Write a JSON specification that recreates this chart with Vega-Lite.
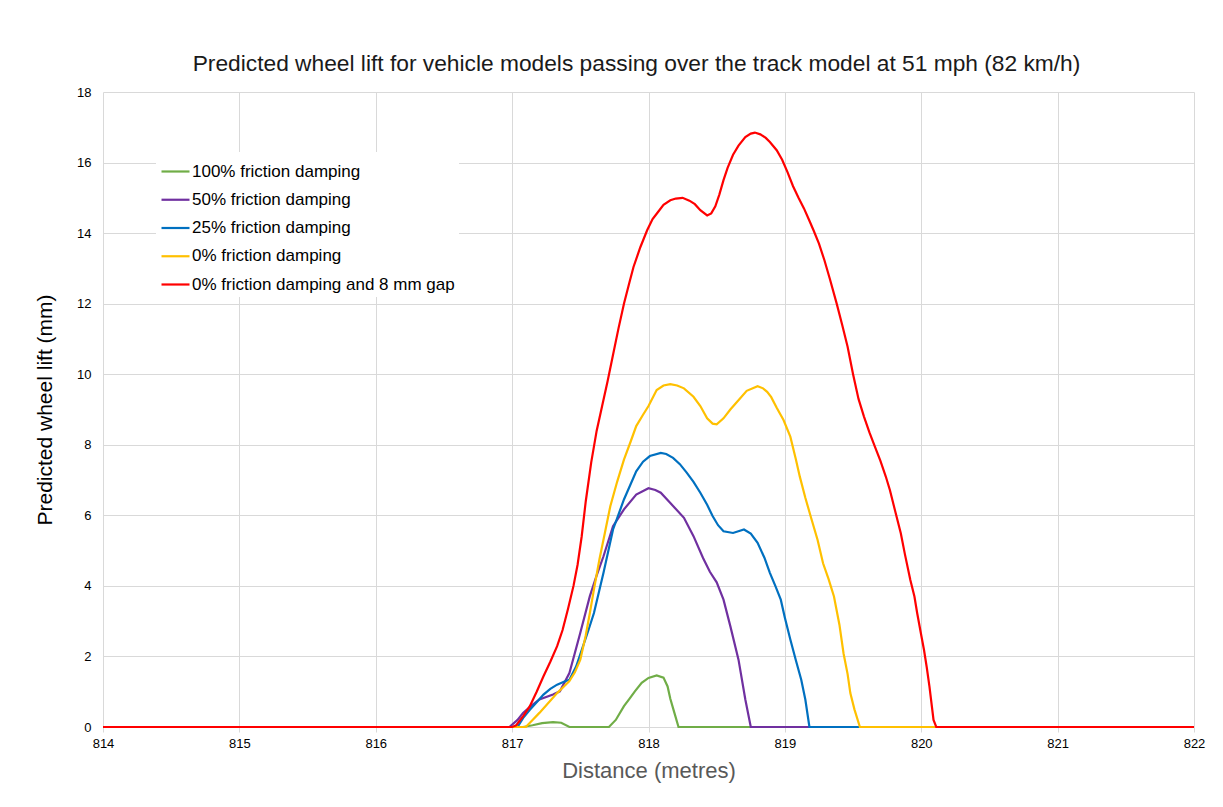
{
  "$schema": "https://vega.github.io/schema/vega-lite/v6.json",
  "autosize": {"type": "none"},
  "width": 1091,
  "height": 635,
  "padding": {"left": 103, "top": 92, "right": 29, "bottom": 80},
  "background": "white",
  "config": {
    "font": "Liberation Sans",
    "view": {"stroke": null}
  },
  "title": {
    "text": "Predicted wheel lift for vehicle models passing over the track model at 51 mph (82 km/h)",
    "font": "Liberation Sans",
    "fontSize": 22.75,
    "fontWeight": "normal",
    "color": "#1a1a1a",
    "anchor": "middle",
    "dx": -12,
    "offset": 10
  },
  "data": {
    "values": [
      {"series": "100% friction damping", "d": 814, "v": 0},
      {"series": "100% friction damping", "d": 817.0, "v": 0},
      {"series": "100% friction damping", "d": 817.08, "v": 0},
      {"series": "100% friction damping", "d": 817.15, "v": 0.05},
      {"series": "100% friction damping", "d": 817.22, "v": 0.11},
      {"series": "100% friction damping", "d": 817.3, "v": 0.14},
      {"series": "100% friction damping", "d": 817.36, "v": 0.12},
      {"series": "100% friction damping", "d": 817.42, "v": 0},
      {"series": "100% friction damping", "d": 817.71, "v": 0},
      {"series": "100% friction damping", "d": 817.76, "v": 0.2},
      {"series": "100% friction damping", "d": 817.82, "v": 0.59},
      {"series": "100% friction damping", "d": 817.86, "v": 0.8},
      {"series": "100% friction damping", "d": 817.9, "v": 1.01},
      {"series": "100% friction damping", "d": 817.95, "v": 1.25},
      {"series": "100% friction damping", "d": 818.0, "v": 1.39},
      {"series": "100% friction damping", "d": 818.06, "v": 1.46},
      {"series": "100% friction damping", "d": 818.11, "v": 1.4},
      {"series": "100% friction damping", "d": 818.14, "v": 1.15},
      {"series": "100% friction damping", "d": 818.16, "v": 0.8},
      {"series": "100% friction damping", "d": 818.19, "v": 0.4},
      {"series": "100% friction damping", "d": 818.22, "v": 0},
      {"series": "100% friction damping", "d": 822, "v": 0},

      {"series": "50% friction damping", "d": 814, "v": 0},
      {"series": "50% friction damping", "d": 816.98, "v": 0},
      {"series": "50% friction damping", "d": 817.04, "v": 0.2},
      {"series": "50% friction damping", "d": 817.08, "v": 0.4},
      {"series": "50% friction damping", "d": 817.14, "v": 0.6},
      {"series": "50% friction damping", "d": 817.2, "v": 0.78},
      {"series": "50% friction damping", "d": 817.3, "v": 0.92},
      {"series": "50% friction damping", "d": 817.35, "v": 1.01},
      {"series": "50% friction damping", "d": 817.42, "v": 1.53},
      {"series": "50% friction damping", "d": 817.46, "v": 2.1},
      {"series": "50% friction damping", "d": 817.5, "v": 2.67},
      {"series": "50% friction damping", "d": 817.57, "v": 3.71},
      {"series": "50% friction damping", "d": 817.62, "v": 4.3},
      {"series": "50% friction damping", "d": 817.67, "v": 4.84},
      {"series": "50% friction damping", "d": 817.74, "v": 5.69},
      {"series": "50% friction damping", "d": 817.82, "v": 6.17},
      {"series": "50% friction damping", "d": 817.91, "v": 6.59},
      {"series": "50% friction damping", "d": 818.0, "v": 6.77},
      {"series": "50% friction damping", "d": 818.05, "v": 6.72},
      {"series": "50% friction damping", "d": 818.09, "v": 6.64},
      {"series": "50% friction damping", "d": 818.16, "v": 6.35},
      {"series": "50% friction damping", "d": 818.26, "v": 5.93},
      {"series": "50% friction damping", "d": 818.33, "v": 5.41},
      {"series": "50% friction damping", "d": 818.4, "v": 4.79},
      {"series": "50% friction damping", "d": 818.45, "v": 4.4},
      {"series": "50% friction damping", "d": 818.5, "v": 4.1},
      {"series": "50% friction damping", "d": 818.55, "v": 3.61},
      {"series": "50% friction damping", "d": 818.6, "v": 2.86},
      {"series": "50% friction damping", "d": 818.66, "v": 1.91},
      {"series": "50% friction damping", "d": 818.71, "v": 0.78},
      {"series": "50% friction damping", "d": 818.75, "v": 0},
      {"series": "50% friction damping", "d": 822, "v": 0},

      {"series": "25% friction damping", "d": 814, "v": 0},
      {"series": "25% friction damping", "d": 817.04, "v": 0},
      {"series": "25% friction damping", "d": 817.08, "v": 0.25},
      {"series": "25% friction damping", "d": 817.13, "v": 0.49},
      {"series": "25% friction damping", "d": 817.18, "v": 0.7},
      {"series": "25% friction damping", "d": 817.23, "v": 0.92},
      {"series": "25% friction damping", "d": 817.28, "v": 1.08},
      {"series": "25% friction damping", "d": 817.33, "v": 1.2},
      {"series": "25% friction damping", "d": 817.38, "v": 1.28},
      {"series": "25% friction damping", "d": 817.42, "v": 1.34},
      {"series": "25% friction damping", "d": 817.47, "v": 1.72},
      {"series": "25% friction damping", "d": 817.52, "v": 2.29},
      {"series": "25% friction damping", "d": 817.56, "v": 2.75},
      {"series": "25% friction damping", "d": 817.6, "v": 3.23},
      {"series": "25% friction damping", "d": 817.67, "v": 4.37},
      {"series": "25% friction damping", "d": 817.74, "v": 5.6},
      {"series": "25% friction damping", "d": 817.82, "v": 6.45},
      {"series": "25% friction damping", "d": 817.91, "v": 7.25},
      {"series": "25% friction damping", "d": 817.96, "v": 7.52},
      {"series": "25% friction damping", "d": 818.01, "v": 7.68},
      {"series": "25% friction damping", "d": 818.09, "v": 7.77},
      {"series": "25% friction damping", "d": 818.13, "v": 7.74},
      {"series": "25% friction damping", "d": 818.18, "v": 7.63},
      {"series": "25% friction damping", "d": 818.23, "v": 7.45},
      {"series": "25% friction damping", "d": 818.28, "v": 7.21},
      {"series": "25% friction damping", "d": 818.33, "v": 6.95},
      {"series": "25% friction damping", "d": 818.38, "v": 6.64},
      {"series": "25% friction damping", "d": 818.43, "v": 6.3},
      {"series": "25% friction damping", "d": 818.47, "v": 5.98},
      {"series": "25% friction damping", "d": 818.51, "v": 5.72},
      {"series": "25% friction damping", "d": 818.55, "v": 5.55},
      {"series": "25% friction damping", "d": 818.62, "v": 5.5},
      {"series": "25% friction damping", "d": 818.7, "v": 5.6},
      {"series": "25% friction damping", "d": 818.75, "v": 5.48},
      {"series": "25% friction damping", "d": 818.8, "v": 5.22},
      {"series": "25% friction damping", "d": 818.85, "v": 4.8},
      {"series": "25% friction damping", "d": 818.89, "v": 4.37},
      {"series": "25% friction damping", "d": 818.93, "v": 4.0},
      {"series": "25% friction damping", "d": 818.97, "v": 3.61},
      {"series": "25% friction damping", "d": 819.0, "v": 3.1},
      {"series": "25% friction damping", "d": 819.04, "v": 2.48},
      {"series": "25% friction damping", "d": 819.08, "v": 1.9},
      {"series": "25% friction damping", "d": 819.12, "v": 1.34},
      {"series": "25% friction damping", "d": 819.15, "v": 0.78},
      {"series": "25% friction damping", "d": 819.18, "v": 0},
      {"series": "25% friction damping", "d": 822, "v": 0},

      {"series": "0% friction damping", "d": 814, "v": 0},
      {"series": "0% friction damping", "d": 817.1, "v": 0},
      {"series": "0% friction damping", "d": 817.15, "v": 0.2},
      {"series": "0% friction damping", "d": 817.2, "v": 0.4},
      {"series": "0% friction damping", "d": 817.27, "v": 0.7},
      {"series": "0% friction damping", "d": 817.33, "v": 0.96},
      {"series": "0% friction damping", "d": 817.38, "v": 1.15},
      {"series": "0% friction damping", "d": 817.42, "v": 1.3},
      {"series": "0% friction damping", "d": 817.46, "v": 1.55},
      {"series": "0% friction damping", "d": 817.5, "v": 1.91},
      {"series": "0% friction damping", "d": 817.54, "v": 2.6},
      {"series": "0% friction damping", "d": 817.57, "v": 3.23},
      {"series": "0% friction damping", "d": 817.6, "v": 3.9},
      {"series": "0% friction damping", "d": 817.64, "v": 4.75},
      {"series": "0% friction damping", "d": 817.68, "v": 5.5},
      {"series": "0% friction damping", "d": 817.72, "v": 6.26},
      {"series": "0% friction damping", "d": 817.77, "v": 6.95},
      {"series": "0% friction damping", "d": 817.82, "v": 7.58},
      {"series": "0% friction damping", "d": 817.87, "v": 8.1},
      {"series": "0% friction damping", "d": 817.91, "v": 8.53},
      {"series": "0% friction damping", "d": 817.96, "v": 8.85},
      {"series": "0% friction damping", "d": 818.0, "v": 9.1},
      {"series": "0% friction damping", "d": 818.06, "v": 9.55},
      {"series": "0% friction damping", "d": 818.11, "v": 9.68},
      {"series": "0% friction damping", "d": 818.16, "v": 9.72},
      {"series": "0% friction damping", "d": 818.21, "v": 9.68},
      {"series": "0% friction damping", "d": 818.26, "v": 9.6},
      {"series": "0% friction damping", "d": 818.33, "v": 9.36},
      {"series": "0% friction damping", "d": 818.38, "v": 9.1},
      {"series": "0% friction damping", "d": 818.43, "v": 8.75},
      {"series": "0% friction damping", "d": 818.47, "v": 8.6},
      {"series": "0% friction damping", "d": 818.5, "v": 8.58},
      {"series": "0% friction damping", "d": 818.55, "v": 8.75},
      {"series": "0% friction damping", "d": 818.6, "v": 9.0},
      {"series": "0% friction damping", "d": 818.65, "v": 9.22},
      {"series": "0% friction damping", "d": 818.72, "v": 9.53},
      {"series": "0% friction damping", "d": 818.8, "v": 9.66},
      {"series": "0% friction damping", "d": 818.84, "v": 9.6},
      {"series": "0% friction damping", "d": 818.87, "v": 9.5},
      {"series": "0% friction damping", "d": 818.9, "v": 9.35},
      {"series": "0% friction damping", "d": 818.94, "v": 9.05},
      {"series": "0% friction damping", "d": 818.99, "v": 8.7},
      {"series": "0% friction damping", "d": 819.04, "v": 8.23},
      {"series": "0% friction damping", "d": 819.08, "v": 7.6},
      {"series": "0% friction damping", "d": 819.11, "v": 7.09},
      {"series": "0% friction damping", "d": 819.15, "v": 6.5},
      {"series": "0% friction damping", "d": 819.19, "v": 5.96},
      {"series": "0% friction damping", "d": 819.24, "v": 5.3},
      {"series": "0% friction damping", "d": 819.28, "v": 4.64},
      {"series": "0% friction damping", "d": 819.32, "v": 4.2},
      {"series": "0% friction damping", "d": 819.36, "v": 3.7},
      {"series": "0% friction damping", "d": 819.4, "v": 2.9},
      {"series": "0% friction damping", "d": 819.43, "v": 2.09},
      {"series": "0% friction damping", "d": 819.46, "v": 1.5},
      {"series": "0% friction damping", "d": 819.48, "v": 0.96},
      {"series": "0% friction damping", "d": 819.51, "v": 0.5},
      {"series": "0% friction damping", "d": 819.55, "v": 0},
      {"series": "0% friction damping", "d": 822, "v": 0},

      {"series": "0% friction damping and 8 mm gap", "d": 814, "v": 0},
      {"series": "0% friction damping and 8 mm gap", "d": 817.0, "v": 0},
      {"series": "0% friction damping and 8 mm gap", "d": 817.03, "v": 0.05},
      {"series": "0% friction damping and 8 mm gap", "d": 817.08, "v": 0.3},
      {"series": "0% friction damping and 8 mm gap", "d": 817.13, "v": 0.59},
      {"series": "0% friction damping and 8 mm gap", "d": 817.18, "v": 1.0},
      {"series": "0% friction damping and 8 mm gap", "d": 817.23, "v": 1.44},
      {"series": "0% friction damping and 8 mm gap", "d": 817.28, "v": 1.85},
      {"series": "0% friction damping and 8 mm gap", "d": 817.33, "v": 2.29},
      {"series": "0% friction damping and 8 mm gap", "d": 817.37, "v": 2.75},
      {"series": "0% friction damping and 8 mm gap", "d": 817.41, "v": 3.35},
      {"series": "0% friction damping and 8 mm gap", "d": 817.45, "v": 4.0},
      {"series": "0% friction damping and 8 mm gap", "d": 817.48, "v": 4.6},
      {"series": "0% friction damping and 8 mm gap", "d": 817.51, "v": 5.4},
      {"series": "0% friction damping and 8 mm gap", "d": 817.54, "v": 6.4},
      {"series": "0% friction damping and 8 mm gap", "d": 817.58, "v": 7.5},
      {"series": "0% friction damping and 8 mm gap", "d": 817.62, "v": 8.4},
      {"series": "0% friction damping and 8 mm gap", "d": 817.66, "v": 9.1},
      {"series": "0% friction damping and 8 mm gap", "d": 817.7, "v": 9.8},
      {"series": "0% friction damping and 8 mm gap", "d": 817.74, "v": 10.55},
      {"series": "0% friction damping and 8 mm gap", "d": 817.78, "v": 11.3},
      {"series": "0% friction damping and 8 mm gap", "d": 817.82, "v": 12.0},
      {"series": "0% friction damping and 8 mm gap", "d": 817.86, "v": 12.6},
      {"series": "0% friction damping and 8 mm gap", "d": 817.89, "v": 13.04},
      {"series": "0% friction damping and 8 mm gap", "d": 817.94, "v": 13.6},
      {"series": "0% friction damping and 8 mm gap", "d": 817.99, "v": 14.08},
      {"series": "0% friction damping and 8 mm gap", "d": 818.03, "v": 14.4},
      {"series": "0% friction damping and 8 mm gap", "d": 818.06, "v": 14.55},
      {"series": "0% friction damping and 8 mm gap", "d": 818.11, "v": 14.8},
      {"series": "0% friction damping and 8 mm gap", "d": 818.16, "v": 14.93},
      {"series": "0% friction damping and 8 mm gap", "d": 818.2, "v": 14.98},
      {"series": "0% friction damping and 8 mm gap", "d": 818.25, "v": 15.0},
      {"series": "0% friction damping and 8 mm gap", "d": 818.3, "v": 14.92},
      {"series": "0% friction damping and 8 mm gap", "d": 818.34, "v": 14.82},
      {"series": "0% friction damping and 8 mm gap", "d": 818.38, "v": 14.65},
      {"series": "0% friction damping and 8 mm gap", "d": 818.43, "v": 14.5},
      {"series": "0% friction damping and 8 mm gap", "d": 818.46, "v": 14.56},
      {"series": "0% friction damping and 8 mm gap", "d": 818.49, "v": 14.76},
      {"series": "0% friction damping and 8 mm gap", "d": 818.52, "v": 15.1},
      {"series": "0% friction damping and 8 mm gap", "d": 818.55, "v": 15.5},
      {"series": "0% friction damping and 8 mm gap", "d": 818.58, "v": 15.85},
      {"series": "0% friction damping and 8 mm gap", "d": 818.62, "v": 16.22},
      {"series": "0% friction damping and 8 mm gap", "d": 818.66, "v": 16.48},
      {"series": "0% friction damping and 8 mm gap", "d": 818.71, "v": 16.72},
      {"series": "0% friction damping and 8 mm gap", "d": 818.75, "v": 16.82},
      {"series": "0% friction damping and 8 mm gap", "d": 818.78, "v": 16.85},
      {"series": "0% friction damping and 8 mm gap", "d": 818.82, "v": 16.8},
      {"series": "0% friction damping and 8 mm gap", "d": 818.86, "v": 16.7},
      {"series": "0% friction damping and 8 mm gap", "d": 818.89, "v": 16.58},
      {"series": "0% friction damping and 8 mm gap", "d": 818.94, "v": 16.35},
      {"series": "0% friction damping and 8 mm gap", "d": 818.98, "v": 16.08},
      {"series": "0% friction damping and 8 mm gap", "d": 819.02, "v": 15.72},
      {"series": "0% friction damping and 8 mm gap", "d": 819.06, "v": 15.33},
      {"series": "0% friction damping and 8 mm gap", "d": 819.1, "v": 15.0},
      {"series": "0% friction damping and 8 mm gap", "d": 819.14, "v": 14.7},
      {"series": "0% friction damping and 8 mm gap", "d": 819.18, "v": 14.35},
      {"series": "0% friction damping and 8 mm gap", "d": 819.21, "v": 14.08},
      {"series": "0% friction damping and 8 mm gap", "d": 819.25, "v": 13.7},
      {"series": "0% friction damping and 8 mm gap", "d": 819.29, "v": 13.23},
      {"series": "0% friction damping and 8 mm gap", "d": 819.33, "v": 12.7},
      {"series": "0% friction damping and 8 mm gap", "d": 819.38, "v": 12.0},
      {"series": "0% friction damping and 8 mm gap", "d": 819.42, "v": 11.4},
      {"series": "0% friction damping and 8 mm gap", "d": 819.46, "v": 10.78},
      {"series": "0% friction damping and 8 mm gap", "d": 819.5, "v": 10.0},
      {"series": "0% friction damping and 8 mm gap", "d": 819.54, "v": 9.3},
      {"series": "0% friction damping and 8 mm gap", "d": 819.58, "v": 8.8},
      {"series": "0% friction damping and 8 mm gap", "d": 819.62, "v": 8.35},
      {"series": "0% friction damping and 8 mm gap", "d": 819.66, "v": 7.95},
      {"series": "0% friction damping and 8 mm gap", "d": 819.7, "v": 7.55},
      {"series": "0% friction damping and 8 mm gap", "d": 819.74, "v": 7.1},
      {"series": "0% friction damping and 8 mm gap", "d": 819.77, "v": 6.72},
      {"series": "0% friction damping and 8 mm gap", "d": 819.81, "v": 6.1},
      {"series": "0% friction damping and 8 mm gap", "d": 819.85, "v": 5.49},
      {"series": "0% friction damping and 8 mm gap", "d": 819.88, "v": 4.9},
      {"series": "0% friction damping and 8 mm gap", "d": 819.92, "v": 4.17},
      {"series": "0% friction damping and 8 mm gap", "d": 819.95, "v": 3.7},
      {"series": "0% friction damping and 8 mm gap", "d": 819.97, "v": 3.23},
      {"series": "0% friction damping and 8 mm gap", "d": 820.0, "v": 2.6},
      {"series": "0% friction damping and 8 mm gap", "d": 820.02, "v": 2.19},
      {"series": "0% friction damping and 8 mm gap", "d": 820.04, "v": 1.7},
      {"series": "0% friction damping and 8 mm gap", "d": 820.06, "v": 1.15},
      {"series": "0% friction damping and 8 mm gap", "d": 820.09, "v": 0.2},
      {"series": "0% friction damping and 8 mm gap", "d": 820.11, "v": 0},
      {"series": "0% friction damping and 8 mm gap", "d": 822, "v": 0}
    ]
  },
  "mark": {"type": "line", "strokeWidth": 2.2, "clip": false},
  "encoding": {
    "x": {
      "field": "d",
      "type": "quantitative",
      "scale": {"domain": [814, 822], "nice": false, "zero": false},
      "axis": {
        "title": "Distance (metres)",
        "values": [814, 815, 816, 817, 818, 819, 820, 821, 822],
        "format": "d",
        "grid": true,
        "gridColor": "#d9d9d9",
        "gridWidth": 1,
        "domain": false,
        "ticks": true,
        "tickColor": "#d9d9d9",
        "tickSize": 5,
        "labelFont": "Liberation Sans",
        "labelFontSize": 13,
        "labelColor": "#000000",
        "labelPadding": 5,
        "labelFlush": false,
        "titleFont": "Liberation Sans",
        "titleFontSize": 22,
        "titleFontWeight": "normal",
        "titleColor": "#595959",
        "titlePadding": 10
      }
    },
    "y": {
      "field": "v",
      "type": "quantitative",
      "scale": {"domain": [0, 18], "nice": false},
      "axis": {
        "title": "Predicted wheel lift (mm)",
        "values": [0, 2, 4, 6, 8, 10, 12, 14, 16, 18],
        "grid": true,
        "gridColor": "#d9d9d9",
        "gridWidth": 1,
        "domain": false,
        "ticks": false,
        "labelFont": "Liberation Sans",
        "labelFontSize": 13,
        "labelColor": "#000000",
        "labelPadding": 12,
        "labelFlush": false,
        "titleFont": "Liberation Sans",
        "titleFontSize": 21,
        "titleFontWeight": "normal",
        "titleColor": "#000000",
        "titlePadding": 21
      }
    },
    "color": {
      "field": "series",
      "type": "nominal",
      "sort": null,
      "scale": {
        "domain": ["100% friction damping", "50% friction damping", "25% friction damping", "0% friction damping", "0% friction damping and 8 mm gap"],
        "range": ["#70AD47", "#7030A0", "#0070C0", "#FFC000", "#FF0000"]
      },
      "legend": {
        "title": null,
        "orient": "none",
        "legendX": 53,
        "legendY": 60,
        "symbolType": "stroke",
        "symbolSize": 784,
        "symbolStrokeWidth": 2.2,
        "labelFont": "Liberation Sans",
        "labelFontSize": 17,
        "labelColor": "#000000",
        "labelLimit": 500,
        "labelOffset": 1,
        "rowPadding": 4.25,
        "padding": 4,
        "fillColor": "white",
        "strokeColor": null
      }
    }
  }
}
